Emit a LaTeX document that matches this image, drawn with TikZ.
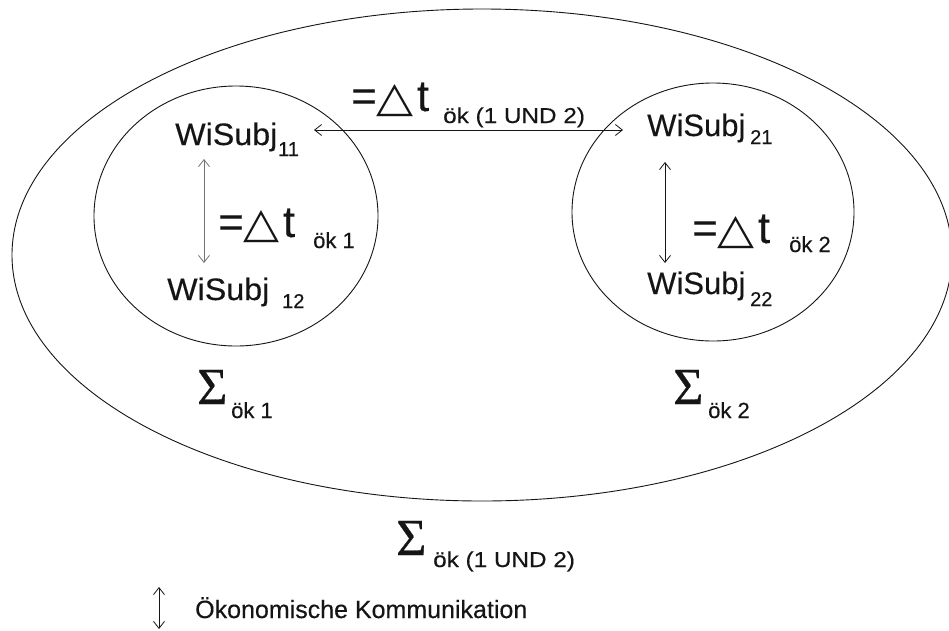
\documentclass[tikz,border=0pt]{standalone}
\usepackage{fontspec}
\setmainfont{Liberation Sans}[FakeBold=0.3]
\newfontfamily\sigmafont{Liberation Serif}[FakeBold=0.5]
\newfontfamily\symfont{DejaVu Sans}
\usetikzlibrary{arrows.meta,shapes.geometric}
\newcommand{\fs}[1]{\fontsize{#1}{#1}\selectfont}
\newcommand{\tri}[2]{\resizebox{#1}{#2}{\symfont △}}
\definecolor{ink}{HTML}{151515}
\tikzset{
  lbl/.style={inner sep=0pt, anchor=base west, text=ink},
  ring/.style={draw=ink, line width=0.9pt, ellipse, inner sep=0pt},
  tip/.tip={Straight Barb[length=7pt,width=11pt,line width=0.8pt]},
  comm/.style={draw=ink, line width=0.8pt, tip-tip},
}
\begin{document}
\begin{tikzpicture}[x=1pt,y=-1pt]
\useasboundingbox (0,0) rectangle (949,630);
\fill[white] (0,0) rectangle (949,630);
% ellipses
\node[ring, minimum width=940pt, minimum height=492pt] (outer) at (482,255) {};
\node[ring, minimum width=284pt, minimum height=260pt] (oek1) at (236,216) {};
\node[ring, minimum width=282pt, minimum height=258pt] (oek2) at (713,212) {};
% economic subjects
\node[lbl] (w11) at (175,145) {\fs{31}\scalebox{1.04}[1]{WiSubj}};
\node[lbl] (w11s) at (278,156) {\fs{20}11};
\node[lbl] (w12) at (167,300) {\fs{31}\scalebox{1.04}[1]{WiSubj}};
\node[lbl] (w12s) at (282,308) {\fs{20}12};
\node[lbl] (w21) at (647,136) {\fs{31}WiSubj};
\node[lbl] (w21s) at (750,144) {\fs{20}21};
\node[lbl] (w22) at (647,294) {\fs{31}WiSubj};
\node[lbl] (w22s) at (750,306) {\fs{20}22};
% delta t labels
\node[lbl] (dtop) at (351,111) {\fs{44}=\tri{37pt}{27pt}\hspace{3pt}t};
\node[lbl] (dtops) at (443,123) {\fs{21.5}\scalebox{1.13}[1]{ök (1 UND 2)}};
\node[lbl] (d1) at (218,237) {\fs{44}=\tri{36pt}{27pt}\hspace{3pt}t};
\node[lbl] (d1s) at (313,248) {\fs{22}ök 1};
\node[lbl] (d2) at (692,243) {\fs{44}=\tri{37pt}{27pt}\hspace{3pt}t};
\node[lbl] (d2s) at (789,252) {\fs{22}ök 2};
% sigma labels
\node[lbl] (s1) at (197,404) {\sigmafont\fs{52}Σ};
\node[lbl] (s1s) at (231,418) {\fs{22}ök 1};
\node[lbl] (s2) at (673,404) {\sigmafont\fs{52}Σ};
\node[lbl] (s2s) at (708,418) {\fs{22}ök 2};
\node[lbl] (s3) at (396,555) {\sigmafont\fs{52}Σ};
\node[lbl] (s3s) at (433,567) {\fs{21.5}\scalebox{1.13}[1]{ök (1 UND 2)}};
% communication arrows
\coordinate (a11) at (204,159);
\coordinate (a12) at (204,263);
\coordinate (a21) at (665,162);
\coordinate (a22) at (665,263);
\coordinate (h1) at (314,130);
\coordinate (h2) at (623,130);
\draw[comm, draw=black!55] (a11) -- (a12);
\draw[comm] (a21) -- (a22);
\draw[comm] (h1) -- (h2);
% legend
\coordinate (lgA) at (159,587);
\coordinate (lgB) at (159,629);
\draw[comm, line width=0.6pt] (lgA) -- (lgB);
\node[lbl] (lgt) at (195,618) {\fs{25}Ökonomische Kommunikation};
\end{tikzpicture}
\end{document}
